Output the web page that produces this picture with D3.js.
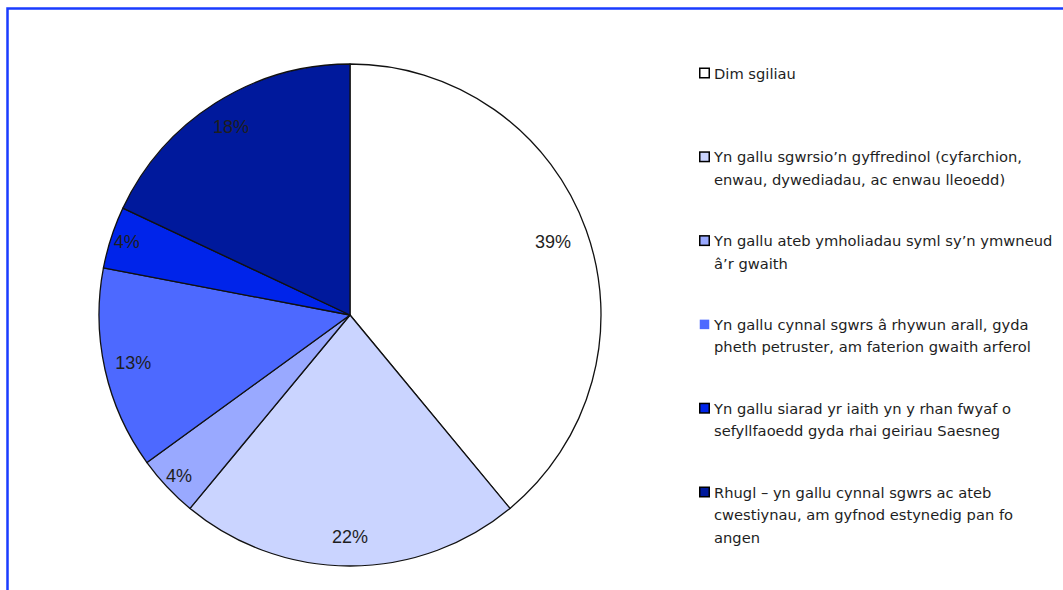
<!DOCTYPE html>
<html>
<head>
<meta charset="utf-8">
<script src="https://cdn.jsdelivr.net/npm/d3@7"></script>
<style>
  html, body { margin: 0; padding: 0; background: #fff; }
  svg { display: block; }
</style>
</head>
<body>
<svg id="chart" width="1063" height="590"></svg>
<script>
// Skill levels (legend text, one entry per line of each item)
const categories = [
  ["Dim sgiliau"],
  ["Yn gallu sgwrsio’n gyffredinol (cyfarchion,", "enwau, dywediadau, ac enwau lleoedd)"],
  ["Yn gallu ateb ymholiadau syml sy’n ymwneud", "â’r gwaith"],
  ["Yn gallu cynnal sgwrs â rhywun arall, gyda", "pheth petruster, am faterion gwaith arferol"],
  ["Yn gallu siarad yr iaith yn y rhan fwyaf o", "sefyllfaoedd gyda rhai geiriau Saesneg"],
  ["Rhugl – yn gallu cynnal sgwrs ac ateb", "cwestiynau, am gyfnod estynedig pan fo", "angen"]
];
// Share of respondents, per cent
const values = [39, 22, 4, 13, 4, 18];
const colors = ["#ffffff", "#cad4ff", "#99a9ff", "#4d69ff", "#0024ea", "#00199c"];
const swatchBorder = [true, true, true, false, true, true];

const svg = d3.select("#chart");

// Frame along the top and left edges
svg.append("path")
  .attr("d", "M7.5,590 V8.5 H1063")
  .attr("fill", "none")
  .attr("stroke", "#1a3cff")
  .attr("stroke-width", 2.5);

const cx = 350, cy = 315, r = 251;
const g = svg.append("g").attr("transform", `translate(${cx},${cy})`);

const pie = d3.pie().sort(null).value(d => d)(values);
const arc = d3.arc().innerRadius(0).outerRadius(r);

g.selectAll("path.slice")
  .data(pie)
  .join("path")
  .attr("class", "slice")
  .attr("d", arc)
  .attr("fill", (d, i) => colors[i])
  .attr("stroke", "#111")
  .attr("stroke-width", 1.3)
  .attr("stroke-linejoin", "round");

// Percentage labels: small slices sit nearer the rim
const labelArc = d => {
  const k = d.value < 5 ? 0.935 : (d.value > 30 ? 0.86 : 0.885);
  return d3.arc().innerRadius(r * k).outerRadius(r * k).centroid(d);
};

g.selectAll("text.pct")
  .data(pie)
  .join("text")
  .attr("class", "pct")
  .attr("x", d => labelArc(d)[0])
  .attr("y", d => labelArc(d)[1])
  .attr("text-anchor", "middle")
  .attr("dominant-baseline", "central")
  .attr("font-family", "'Liberation Sans', Arial, sans-serif")
  .attr("font-size", 18)
  .attr("fill", "#1e1e1e")
  .text(d => d.value + "%");

// Legend
const legendX = 699, legendY0 = 73, legendStep = 83.8, lineH = 22.6;
const legend = svg.append("g");
const items = legend.selectAll("g.item")
  .data(categories)
  .join("g")
  .attr("class", "item")
  .attr("transform", (d, i) => `translate(${legendX},${legendY0 + i * legendStep})`);

items.append("rect")
  .attr("x", 0.75)
  .attr("y", -4.75)
  .attr("width", 9.5)
  .attr("height", 9.5)
  .attr("fill", (d, i) => colors[i])
  .attr("stroke", (d, i) => swatchBorder[i] ? "#000" : "none")
  .attr("stroke-width", 1.5);

items.append("text")
  .attr("font-family", "'DejaVu Sans', sans-serif")
  .attr("font-size", 14.7)
  .attr("fill", "#1e1e1e")
  .selectAll("tspan")
  .data(d => d)
  .join("tspan")
  .attr("x", 15)
  .attr("y", (d, j) => j * lineH)
  .attr("dominant-baseline", "central")
  .text(d => d);
</script>
</body>
</html>
